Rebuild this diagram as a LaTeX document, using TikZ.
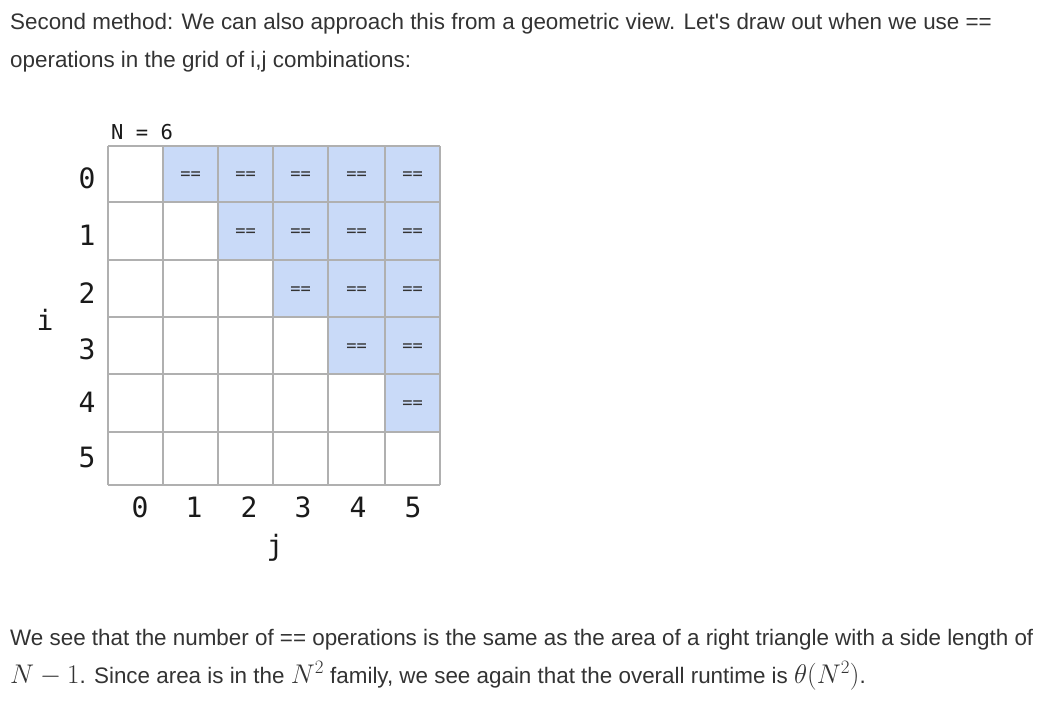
\RequirePackage{fix-cm}
\documentclass[tikz,border=0pt]{standalone}
\usepackage{fontspec}
\newfontfamily\prose{Liberation Sans}
\newfontfamily\mono{DejaVu Sans Mono}
\definecolor{prosecol}{HTML}{333333}
\definecolor{cellblue}{HTML}{C9DAF8}
\definecolor{gridgray}{HTML}{B0B0B0}
\definecolor{labcol}{HTML}{1A1A1A}
\definecolor{eqcol}{HTML}{333333}
\tikzset{
  prosetext/.style={anchor=base west, inner sep=0pt, text=prosecol, font=\prose\fontsize{22.4}{26}\selectfont},
  axislab/.style={inner sep=0pt, text=labcol, font=\mono\fontsize{28}{30}\selectfont},
  eqlab/.style={inner sep=0pt, text=eqcol, font=\mono\fontsize{17}{19}\selectfont},
  gridline/.style={draw=gridgray, line width=1.5pt},
}
\newcommand{\mathbig}[1]{{\fontsize{27}{30}\selectfont$#1$}}
\begin{document}
\begin{tikzpicture}[x=1pt,y=-1pt]
\useasboundingbox (0,0) rectangle (1057,701);
\fill[white] (0,0) rectangle (1057,701);
% prose
\node[prosetext] (t1) at (10,30) {Second method: We can also approach this from a geometric view. Let's draw out when we use ==};
\node[prosetext] (t2) at (10,67) {operations in the grid of i,j combinations:};
\node[prosetext] (t3) at (10,645) {We see that the number of == operations is the same as the area of a right triangle with a side length of};
\node[prosetext] (t4) at (10,683) {\mathbig{N-1}. Since area is in the \mathbig{N^2} family, we see again that the overall runtime is \mathbig{\theta(N^2)}.};
% grid geometry
\def\xs{{108,163,218,273,328,385,440}}
\def\ys{{146,202,260,317,374,432,485}}
% blue cells
\foreach \r in {0,...,4}{
  \foreach \c in {1,...,5}{
    \ifnum\c>\r
      \pgfmathsetmacro{\xa}{\xs[\c]}
      \pgfmathsetmacro{\xb}{\xs[\c+1]}
      \pgfmathsetmacro{\ya}{\ys[\r]}
      \pgfmathsetmacro{\yb}{\ys[\r+1]}
      \fill[cellblue] (\xa,\ya) rectangle (\xb,\yb);
      \node[eqlab] (eq-\r-\c) at ({(\xa+\xb)/2},{(\ya+\yb)/2+2}) {==};
    \fi
  }
}
% grid lines
\foreach \k in {0,...,6}{
  \pgfmathsetmacro{\xx}{\xs[\k]}
  \pgfmathsetmacro{\yy}{\ys[\k]}
  \draw[gridline] (\xx,146) -- (\xx,485);
  \draw[gridline] (108,\yy) -- (440,\yy);
}
% labels
\node[axislab, anchor=west, font=\mono\fontsize{20.5}{22}\selectfont] (ntitle) at (111,132) {N = 6};
\foreach \r/\yy in {0/178,1/235,2/293,3/349,4/402,5/457}{
  \node[axislab] (row-\r) at (87,\yy) {\r};
}
\foreach \c/\xx in {0/140,1/194,2/249,3/303,4/358,5/413}{
  \node[axislab] (col-\c) at (\xx,507) {\c};
}
\node[axislab] (ilab) at (45,320) {i};
\node[axislab] (jlab) at (275,548) {j};
\end{tikzpicture}
\end{document}
